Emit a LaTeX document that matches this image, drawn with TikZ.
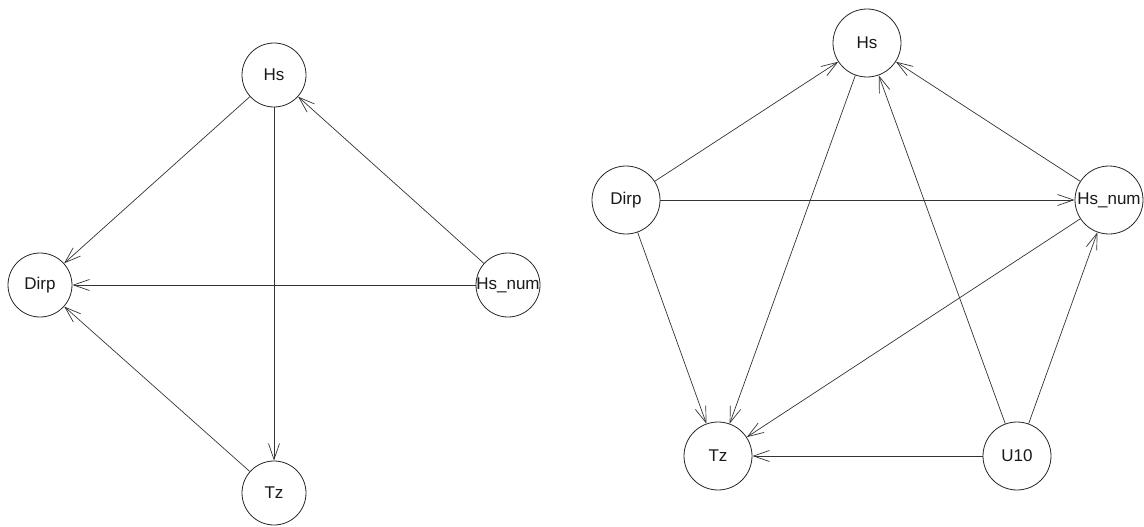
\documentclass[tikz,border=0pt]{standalone}
\usepackage{fontspec}
\setmainfont{Liberation Sans}
\usetikzlibrary{arrows.meta}
\begin{document}
\begin{tikzpicture}[x=1pt,y=-1pt,
  vtx/.style={circle,draw=black!85,line width=0.8pt,inner sep=0pt,fill=white},
  smallv/.style={vtx,minimum size=64pt},
  bigv/.style={vtx,minimum size=68pt},
  lbl/.style={font=\fontsize{17}{20}\selectfont,text=black!90},
  edge/.style={draw=black!80,line width=0.7pt,-{Straight Barb[length=16pt,width=11pt,line width=0.7pt]}}]
\useasboundingbox (0,0) rectangle (1144,527);
% left graph
\node[smallv] (lHs) at (274,75) {};
\node[smallv] (lDirp) at (40,285) {};
\node[smallv] (lHsnum) at (508,285) {};
\node[smallv] (lTz) at (274,493) {};
\draw[edge] (lHs) -- (lDirp);
\draw[edge] (lHs) -- (lTz);
\draw[edge] (lHsnum) -- (lHs);
\draw[edge] (lHsnum) -- (lDirp);
\draw[edge] (lTz) -- (lDirp);
\node[lbl] (lHst) at (lHs) {Hs};
\node[lbl] (lDirpt) at (lDirp) {Dirp};
\node[lbl] (lHsnumt) at (lHsnum) {Hs\_num};
\node[lbl] (lTzt) at (lTz) {Tz};
% right graph
\node[bigv] (rHs) at (867,43) {};
\node[bigv] (rDirp) at (626,200) {};
\node[bigv] (rHsnum) at (1109,200) {};
\node[bigv] (rTz) at (718,456) {};
\node[bigv] (rU) at (1017,456) {};
\draw[edge] (rDirp) -- (rHs);
\draw[edge] (rDirp) -- (rHsnum);
\draw[edge] (rDirp) -- (rTz);
\draw[edge] (rHs) -- (rTz);
\draw[edge] (rHsnum) -- (rHs);
\draw[edge] (rHsnum) -- (rTz);
\draw[edge] (rU) -- (rHs);
\draw[edge] (rU) -- (rHsnum);
\draw[edge] (rU) -- (rTz);
\node[lbl] (rHst) at (rHs) {Hs};
\node[lbl] (rDirpt) at (rDirp) {Dirp};
\node[lbl] (rHsnumt) at (rHsnum) {Hs\_num};
\node[lbl] (rTzt) at (rTz) {Tz};
\node[lbl] (rUt) at (rU) {U10};
\end{tikzpicture}
\end{document}
